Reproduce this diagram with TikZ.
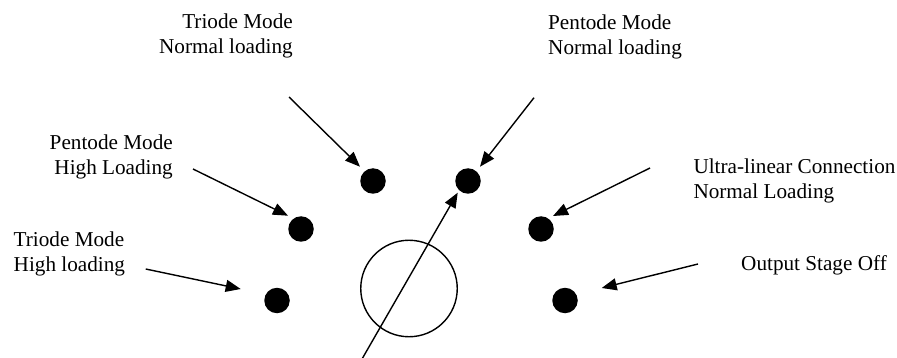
\documentclass[tikz,border=0pt]{standalone}
\usepackage{fontspec}
\setmainfont{Liberation Serif}
\usetikzlibrary{arrows.meta}
\begin{document}
\begin{tikzpicture}[x=1pt,y=-1pt,
  label/.style={inner sep=0pt,font=\fontsize{21.2}{25}\selectfont},
  contact/.style={circle,fill=black,inner sep=0pt,minimum size=25.5pt},
  pointer/.style={line width=1.4pt,-{Triangle[length=15pt,width=12pt]}},
  knob/.style={circle,draw=black,line width=1.4pt,inner sep=0pt,minimum size=96.5pt}]
\useasboundingbox (0,0) rectangle (897,358);

% switch positions
\node[contact] (th) at (277,300.5) {};
\node[contact] (ph) at (301,229) {};
\node[contact] (tn) at (373,181) {};
\node[contact] (pn) at (468,181) {};
\node[contact] (ul) at (541,229) {};
\node[contact] (off) at (565,300.5) {};

% rotary knob
\node[knob] (knob) at (409,288.5) {};

% labels (base anchor sits on the last line)
\node[label,anchor=base east,align=right] (Ltn) at (293,53.3) {Triode Mode\\Normal loading};
\node[label,anchor=base west,align=left] (Lpn) at (548,54.3) {Pentode Mode\\Normal loading};
\node[label,anchor=base east,align=right] (Lph) at (173,174.5) {Pentode Mode\\High Loading};
\node[label,anchor=base west,align=left] (Lth) at (13.5,271.7) {Triode Mode\\High loading};
\node[label,anchor=base west,align=left] (Lul) at (693.3,198.3) {Ultra-linear Connection\\Normal Loading};
\node[label,anchor=base west] (Loff) at (741,270) {Output Stage Off};

% arrow ends
\coordinate (s1) at (289,97);    \coordinate (e1) at (360,166.7);
\coordinate (s2) at (534,97.7);  \coordinate (e2) at (480,166.7);
\coordinate (s3) at (193,169);   \coordinate (e3) at (288,215.7);
\coordinate (s4) at (145.7,269); \coordinate (e4) at (240.7,289);
\coordinate (s5) at (650,168);   \coordinate (e5) at (553,216);
\coordinate (s6) at (698,264);   \coordinate (e6) at (601.7,288);
\coordinate (s7) at (362.3,358.5); \coordinate (e7) at (457.7,192.7);

\draw[pointer] (s1) -- (e1);
\draw[pointer] (s2) -- (e2);
\draw[pointer] (s3) -- (e3);
\draw[pointer] (s4) -- (e4);
\draw[pointer] (s5) -- (e5);
\draw[pointer] (s6) -- (e6);
\draw[pointer] (s7) -- (e7);
\end{tikzpicture}
\end{document}
